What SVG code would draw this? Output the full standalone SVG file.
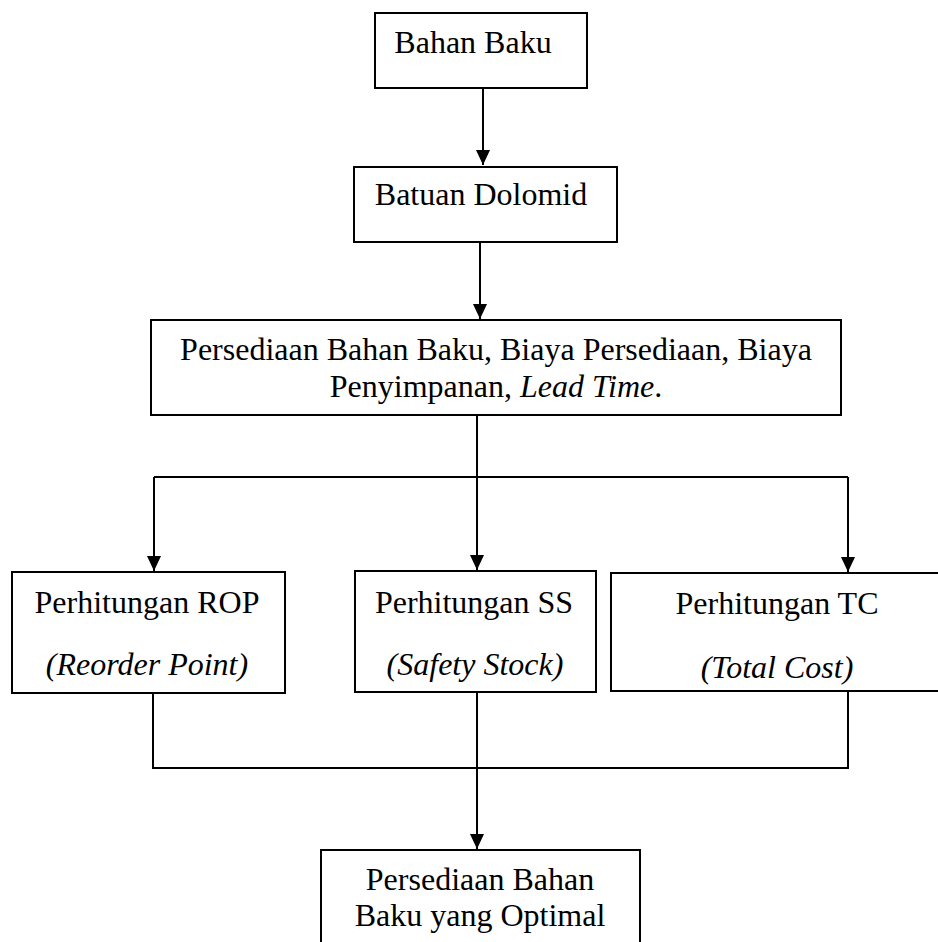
<svg xmlns="http://www.w3.org/2000/svg" width="938" height="942" viewBox="0 0 938 942">
<style>
.box{fill:#fff;stroke:#000;stroke-width:2}
.ln{fill:none;stroke:#000;stroke-width:2}
text{font-family:"Liberation Serif","Times New Roman",serif;font-size:32px;fill:#000;text-anchor:middle}
.it{font-style:italic}
</style>
<defs>
<marker id="ah" markerUnits="userSpaceOnUse" markerWidth="16" markerHeight="14" refX="15" refY="7" orient="auto">
<path d="M0,0 L15,7 L0,14 Z" fill="#000"/>
</marker>
</defs>
<rect width="938" height="942" fill="#fff"/>
<g id="connectors">
<line class="ln" x1="483" y1="88" x2="483" y2="165" marker-end="url(#ah)"/>
<line class="ln" x1="480" y1="242" x2="480" y2="319" marker-end="url(#ah)"/>
<line class="ln" x1="477" y1="415" x2="477" y2="570" marker-end="url(#ah)"/>
<line class="ln" x1="154" y1="477" x2="848" y2="477"/>
<line class="ln" x1="154" y1="477" x2="154" y2="571" marker-end="url(#ah)"/>
<line class="ln" x1="848" y1="477" x2="848" y2="572" marker-end="url(#ah)"/>
<line class="ln" x1="153" y1="693" x2="153" y2="768"/>
<line class="ln" x1="848" y1="691" x2="848" y2="768"/>
<line class="ln" x1="152" y1="768" x2="849" y2="768"/>
<line class="ln" x1="477" y1="692" x2="477" y2="849" marker-end="url(#ah)"/>
</g>
<g id="bahan-baku">
<rect class="box" x="375" y="13" width="212" height="75"/>
<text x="473" y="53">Bahan Baku</text>
</g>
<g id="batuan-dolomid">
<rect class="box" x="354" y="167" width="263" height="75"/>
<text x="481" y="205">Batuan Dolomid</text>
</g>
<g id="persediaan">
<rect class="box" x="151" y="320" width="690" height="95"/>
<text x="496" y="360">Persediaan Bahan Baku, Biaya Persediaan, Biaya</text>
<text x="496" y="397">Penyimpanan, <tspan class="it">Lead Time</tspan>.</text>
</g>
<g id="rop">
<rect class="box" x="12" y="572" width="273" height="121"/>
<text x="147" y="613">Perhitungan ROP</text>
<text class="it" x="147" y="675">(Reorder Point)</text>
</g>
<g id="ss">
<rect class="box" x="355" y="571" width="241" height="121"/>
<text x="474" y="613">Perhitungan SS</text>
<text class="it" x="475" y="675">(Safety Stock)</text>
</g>
<g id="tc">
<rect class="box" x="611" y="573" width="340" height="118"/>
<text x="777" y="614">Perhitungan TC</text>
<text class="it" x="777" y="678">(Total Cost)</text>
</g>
<g id="optimal">
<rect class="box" x="321" y="850" width="319" height="110"/>
<text x="480" y="890">Persediaan Bahan</text>
<text x="480" y="926">Baku yang Optimal</text>
</g>
</svg>
